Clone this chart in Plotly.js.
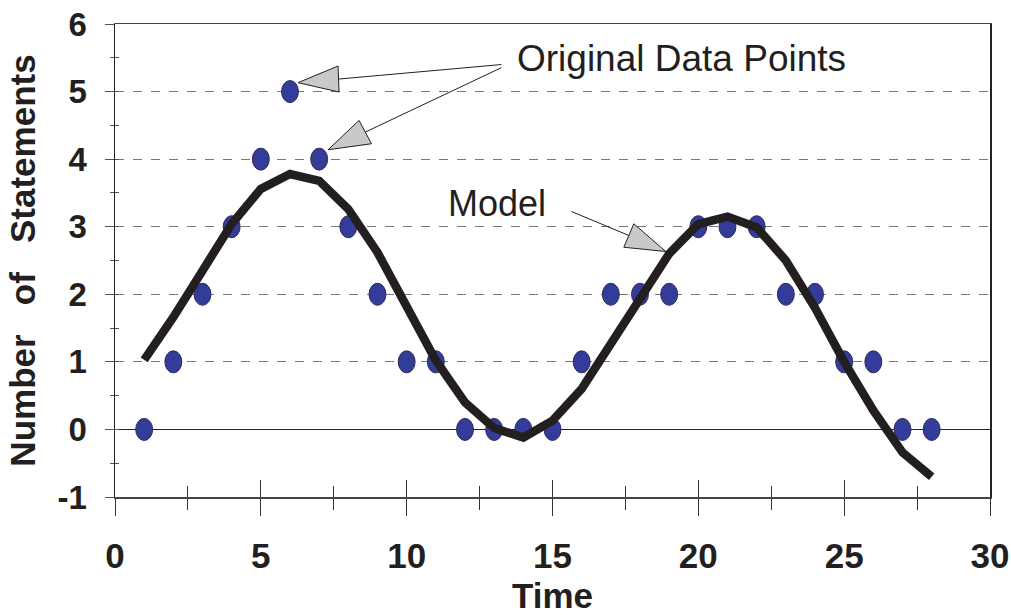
<!DOCTYPE html>
<html>
<head>
<meta charset="utf-8">
<script src="https://cdn.plot.ly/plotly-3.0.1.min.js"></script>
<style>
  html, body { margin: 0; padding: 0; background: #ffffff; }
  #chart { width: 1011px; height: 615px; }
</style>
</head>
<body>
<div id="chart"></div>
<script>
// Observed number of statements per time step
const time = [1, 2, 3, 4, 5, 6, 7, 8, 9, 10, 11, 12, 13, 14,
              15, 16, 17, 18, 19, 20, 21, 22, 23, 24, 25, 26, 27, 28];
const statements = [0, 1, 2, 3, 4, 5, 4, 3, 2, 1, 1, 0, 0, 0,
                    0, 1, 2, 2, 2, 3, 3, 3, 2, 2, 1, 1, 0, 0];
// Fitted model curve at the same time steps
const model = [1.03, 1.66, 2.35, 3.04, 3.56, 3.78, 3.68, 3.26, 2.62, 1.82, 1.02, 0.40, 0.02, -0.12,
               0.13, 0.60, 1.26, 1.96, 2.60, 3.04, 3.15, 2.99, 2.50, 1.80, 1.00, 0.28, -0.34, -0.70];

// Axis tick values and labels
const xTickVals = [0, 5, 10, 15, 20, 25, 30];
const xTickLabels = ['0', '5', '10', '15', '20', '25', '30'];
const yTickVals = [-1, 0, 1, 2, 3, 4, 5, 6];
const yTickLabels = ['-1', '0', '1', '2', '3', '4', '5', '6'];

const ink = '#231f20';
const dotFill = '#333d99';

// Data points are drawn as upright ellipses in axis units
const dotHalfW = 0.29;
const dotHalfH = 0.163;
const dotShapes = time.map((t, i) => ({
  type: 'circle', xref: 'x', yref: 'y', layer: 'between',
  x0: t - dotHalfW, x1: t + dotHalfW,
  y0: statements[i] - dotHalfH, y1: statements[i] + dotHalfH,
  fillcolor: dotFill, line: { color: '#2b2b55', width: 1 }
}));

// Callout arrows: a thin leader line ending in a grey outlined triangle
function callout(from, base, tip, c1, c2) {
  return [
    { type: 'line', xref: 'x', yref: 'y', layer: 'above',
      x0: from[0], y0: from[1], x1: base[0], y1: base[1],
      line: { color: ink, width: 1 } },
    { type: 'path', xref: 'x', yref: 'y', layer: 'above',
      path: `M ${tip[0]} ${tip[1]} L ${c1[0]} ${c1[1]} L ${c2[0]} ${c2[1]} Z`,
      fillcolor: '#c8c9cb', line: { color: ink, width: 1 } }
  ];
}
const arrowShapes = [].concat(
  callout([13.25, 5.40], [7.66, 5.185], [6.276, 5.132], [7.647, 5.378], [7.682, 4.993]),
  callout([13.25, 5.354], [8.58, 4.40], [7.305, 4.139], [8.368, 4.573], [8.793, 4.228]),
  callout([15.65, 3.225], [17.62, 2.87], [18.885, 2.633], [17.788, 3.043], [17.445, 2.696])
);

const tickFont = { family: 'Liberation Sans, Arial, sans-serif', weight: 'bold', color: ink };

const traces = [
  {
    type: 'scatter', mode: 'lines', name: 'Model',
    x: time, y: model,
    line: { color: ink, width: 8.5 },
    showlegend: false, hoverinfo: 'x+y'
  },
  // carries the crossing tick marks on the overlay axes
  { type: 'scatter', x: [], y: [], xaxis: 'x2', yaxis: 'y2', showlegend: false, hoverinfo: 'skip' }
];

const layout = {
  width: 1011, height: 615,
  margin: { l: 115, r: 21, t: 24, b: 118 },
  paper_bgcolor: '#ffffff', plot_bgcolor: '#ffffff',
  showlegend: false,
  xaxis: {
    range: [0, 30], tickmode: 'array', tickvals: xTickVals, ticktext: xTickLabels,
    ticks: 'outside', ticklen: 17, tickwidth: 1, tickcolor: '#333',
    minor: { ticks: 'outside', ticklen: 11, tickwidth: 1, tickcolor: '#333', dtick: 2.5, tick0: 0, showgrid: false },
    showgrid: false, zeroline: false,
    showline: true, linecolor: '#444', linewidth: 1.5, mirror: true,
    tickfont: Object.assign({ size: 35 }, tickFont),
    ticklabelstandoff: 10
  },
  yaxis: {
    range: [-1, 6], tickmode: 'array', tickvals: yTickVals, ticktext: yTickLabels,
    ticks: 'outside', ticklen: 9, tickwidth: 1, tickcolor: '#555',
    minor: { ticks: 'outside', ticklen: 4, tickwidth: 1, tickcolor: '#555', dtick: 0.5, tick0: 0, showgrid: false },
    showgrid: true, gridcolor: '#777', gridwidth: 1, griddash: 'dash',
    zeroline: true, zerolinecolor: '#222', zerolinewidth: 1.2,
    showline: true, linecolor: '#222', linewidth: 1.5, mirror: true,
    tickfont: Object.assign({ size: 33 }, tickFont),
    ticklabelstandoff: 11,
    title: {
      text: 'Number\u00a0\u00a0\u00a0of\u00a0\u00a0\u00a0Statements',
      font: Object.assign({ size: 35 }, tickFont), standoff: 11
    }
  },
  xaxis2: {
    overlaying: 'x', anchor: 'y2', side: 'bottom', range: [0, 30],
    tickmode: 'array', tickvals: xTickVals, showticklabels: false,
    ticks: 'inside', ticklen: 17, tickwidth: 1, tickcolor: '#333',
    minor: { ticks: 'inside', ticklen: 11, tickwidth: 1, tickcolor: '#333', dtick: 2.5, tick0: 0, showgrid: false },
    showgrid: false, zeroline: false, showline: false
  },
  yaxis2: {
    overlaying: 'y', anchor: 'x2', side: 'left', range: [-1, 6],
    tickmode: 'array', tickvals: yTickVals, showticklabels: false,
    ticks: 'inside', ticklen: 0,
    minor: { ticks: 'inside', ticklen: 4, tickwidth: 1, tickcolor: '#555', dtick: 0.5, tick0: 0, showgrid: false },
    showgrid: false, zeroline: false, showline: false
  },
  shapes: dotShapes.concat(arrowShapes),
  annotations: [
    // x-axis title, set low under the tick labels
    { x: 0.5, y: 0, xref: 'paper', yref: 'paper', xanchor: 'center', yanchor: 'top',
      yshift: -77, text: 'Time', showarrow: false,
      font: Object.assign({ size: 35 }, tickFont) },
    { x: 13.72, y: 5.49, xref: 'x', yref: 'y', xanchor: 'left', yanchor: 'middle',
      text: 'Original Data Points', showarrow: false,
      font: { family: 'Liberation Sans, Arial, sans-serif', size: 37, color: ink } },
    { x: 11.35, y: 3.34, xref: 'x', yref: 'y', xanchor: 'left', yanchor: 'middle',
      text: 'Model', showarrow: false,
      font: { family: 'Liberation Sans, Arial, sans-serif', size: 36, color: ink } }
  ]
};

Plotly.newPlot('chart', traces, layout, { displayModeBar: false, staticPlot: true });
</script>
</body>
</html>
